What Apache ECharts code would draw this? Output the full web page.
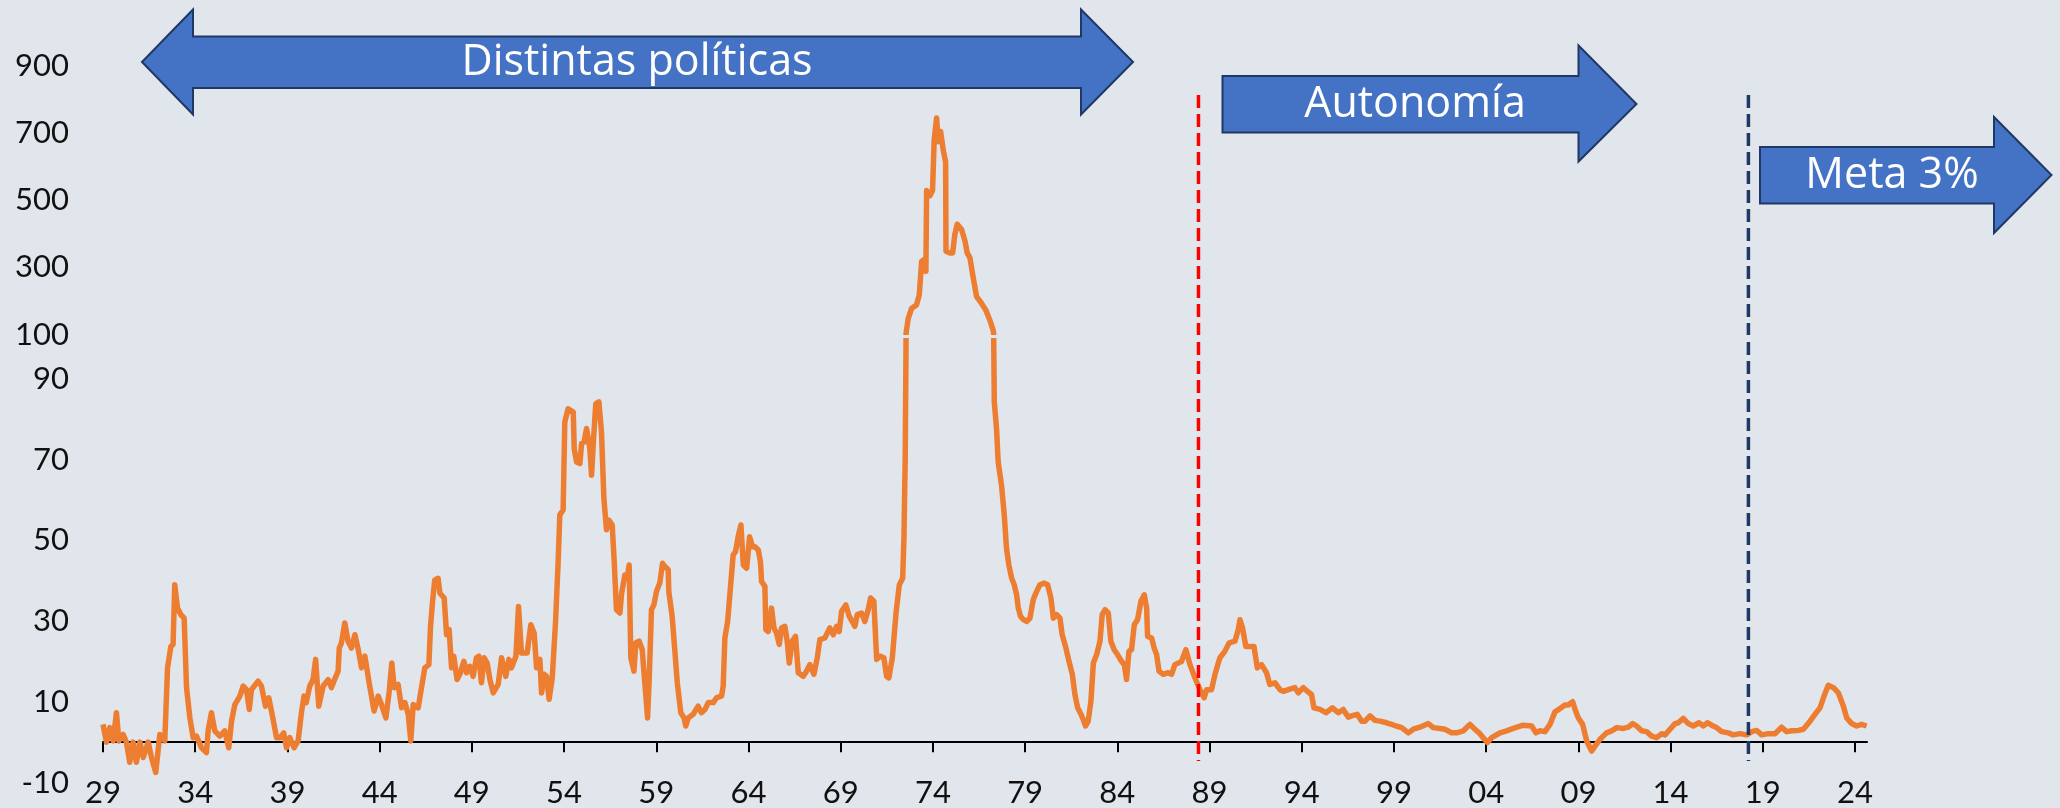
<!DOCTYPE html>
<html>
<head>
<meta charset="utf-8">
<title>Inflación Chile 1929-2024</title>
<script src="https://cdn.jsdelivr.net/npm/echarts@6.0.0/dist/echarts.min.js"></script>
<style>
  html, body { margin: 0; padding: 0; background: #E1E6ED; }
  #grafico { width: 2060px; height: 808px; }
</style>
</head>
<body>
<div id="grafico"></div>
<script>
// fechas (año decimal) y variación anual del IPC (%)
var anios = [
  1929.00, 1929.19, 1929.37, 1929.55, 1929.73, 1929.86, 1930.09, 1930.27, 1930.45, 1930.63,
  1930.81, 1931.00, 1931.18, 1931.45, 1931.63, 1931.86, 1932.08, 1932.35, 1932.50, 1932.68,
  1932.80, 1932.89, 1933.04, 1933.22, 1933.40, 1933.53, 1933.71, 1933.89, 1934.07, 1934.34,
  1934.61, 1934.70, 1934.88, 1935.06, 1935.33, 1935.60, 1935.82, 1935.97, 1936.15, 1936.42,
  1936.60, 1936.78, 1936.93, 1937.05, 1937.41, 1937.59, 1937.81, 1937.99, 1938.17, 1938.41,
  1938.59, 1938.80, 1938.95, 1939.13, 1939.36, 1939.58, 1939.76, 1939.90, 1940.02, 1940.21,
  1940.39, 1940.53, 1940.70, 1940.79, 1940.94, 1941.21, 1941.39, 1941.52, 1941.75, 1941.81,
  1941.93, 1942.11, 1942.29, 1942.47, 1942.66, 1942.84, 1943.02, 1943.20, 1943.43, 1943.70,
  1943.92, 1944.10, 1944.34, 1944.52, 1944.66, 1944.79, 1945.00, 1945.19, 1945.37, 1945.55,
  1945.69, 1945.82, 1946.09, 1946.27, 1946.45, 1946.67, 1946.76, 1946.87, 1946.99, 1947.17,
  1947.27, 1947.50, 1947.63, 1947.77, 1947.90, 1948.02, 1948.20, 1948.35, 1948.57, 1948.71,
  1948.89, 1949.07, 1949.25, 1949.38, 1949.52, 1949.67, 1949.83, 1949.98, 1950.16, 1950.43,
  1950.61, 1950.84, 1951.01, 1951.15, 1951.39, 1951.53, 1951.69, 1952.00, 1952.20, 1952.38,
  1952.51, 1952.69, 1952.78, 1952.92, 1953.05, 1953.19, 1953.36, 1953.54, 1953.68, 1953.77,
  1953.95, 1954.04, 1954.22, 1954.31, 1954.50, 1954.55, 1954.68, 1954.86, 1954.95, 1955.09,
  1955.22, 1955.31, 1955.40, 1955.49, 1955.60, 1955.72, 1955.89, 1956.03, 1956.16, 1956.30,
  1956.43, 1956.61, 1956.72, 1956.84, 1957.03, 1957.12, 1957.30, 1957.42, 1957.53, 1957.62,
  1957.79, 1957.89, 1958.07, 1958.24, 1958.35, 1958.53, 1958.62, 1958.74, 1958.87, 1959.01,
  1959.19, 1959.34, 1959.47, 1959.65, 1959.68, 1959.86, 1960.01, 1960.14, 1960.33, 1960.51,
  1960.60, 1960.73, 1961.00, 1961.27, 1961.45, 1961.64, 1961.82, 1962.09, 1962.27, 1962.54,
  1962.63, 1962.72, 1962.87, 1962.99, 1963.17, 1963.30, 1963.44, 1963.59, 1963.72, 1963.90,
  1964.06, 1964.22, 1964.35, 1964.53, 1964.65, 1964.71, 1964.89, 1964.94, 1965.07, 1965.25,
  1965.38, 1965.52, 1965.67, 1965.79, 1965.97, 1966.10, 1966.21, 1966.37, 1966.55, 1966.70,
  1966.97, 1967.10, 1967.33, 1967.55, 1967.73, 1967.87, 1968.14, 1968.41, 1968.60, 1968.78,
  1968.92, 1969.05, 1969.28, 1969.46, 1969.77, 1969.90, 1970.13, 1970.31, 1970.49, 1970.62,
  1970.80, 1970.95, 1971.13, 1971.34, 1971.49, 1971.61, 1971.80, 1972.00, 1972.18, 1972.36,
  1972.43, 1972.50, 1972.56, 1972.66, 1972.84, 1973.11, 1973.26, 1973.39, 1973.51, 1973.62,
  1973.66, 1973.84, 1973.98, 1974.07, 1974.20, 1974.29, 1974.42, 1974.56, 1974.69, 1974.71,
  1974.92, 1975.07, 1975.19, 1975.32, 1975.55, 1975.74, 1975.86, 1976.01, 1976.19, 1976.37,
  1976.64, 1976.87, 1977.09, 1977.27, 1977.33, 1977.45, 1977.54, 1977.72, 1977.87, 1977.99,
  1978.12, 1978.27, 1978.41, 1978.54, 1978.63, 1978.75, 1978.90, 1979.08, 1979.26, 1979.44,
  1979.62, 1979.80, 1980.04, 1980.22, 1980.40, 1980.53, 1980.71, 1980.89, 1981.01, 1981.19,
  1981.38, 1981.56, 1981.70, 1981.85, 1982.03, 1982.15, 1982.28, 1982.42, 1982.57, 1982.70,
  1982.88, 1983.06, 1983.18, 1983.33, 1983.51, 1983.65, 1983.83, 1984.01, 1984.23, 1984.38,
  1984.50, 1984.63, 1984.77, 1984.92, 1985.10, 1985.28, 1985.46, 1985.59, 1985.64, 1985.86,
  1986.00, 1986.13, 1986.26, 1986.49, 1986.76, 1986.94, 1987.12, 1987.21, 1987.48, 1987.72,
  1987.94, 1988.21, 1988.48, 1988.71, 1988.84, 1989.11, 1989.29, 1989.56, 1989.83, 1990.07,
  1990.38, 1990.56, 1990.65, 1990.79, 1990.97, 1991.19, 1991.41, 1991.59, 1991.82, 1992.09,
  1992.27, 1992.55, 1992.82, 1993.00, 1993.27, 1993.63, 1993.81, 1994.08, 1994.30, 1994.53,
  1994.66, 1994.99, 1995.31, 1995.67, 1995.98, 1996.25, 1996.52, 1996.70, 1997.01, 1997.25,
  1997.43, 1997.70, 1997.97, 1998.24, 1998.60, 1998.87, 1999.11, 1999.42, 1999.78, 2000.05,
  2000.41, 2000.86, 2001.13, 2001.49, 2001.76, 2002.13, 2002.40, 2002.76, 2003.12, 2003.39,
  2003.66, 2003.84, 2004.06, 2004.30, 2004.75, 2005.11, 2005.47, 2006.01, 2006.47, 2006.70,
  2006.92, 2007.19, 2007.46, 2007.73, 2008.00, 2008.27, 2008.45, 2008.69, 2008.82, 2009.00,
  2009.23, 2009.45, 2009.72, 2009.90, 2010.17, 2010.53, 2010.80, 2011.08, 2011.44, 2011.71,
  2011.94, 2012.16, 2012.43, 2012.70, 2012.97, 2013.24, 2013.52, 2013.70, 2013.97, 2014.24,
  2014.42, 2014.69, 2014.96, 2015.23, 2015.54, 2015.78, 2015.99, 2016.23, 2016.50, 2016.77,
  2017.13, 2017.40, 2017.76, 2018.13, 2018.40, 2018.67, 2018.94, 2019.30, 2019.66, 2020.02,
  2020.29, 2020.57, 2020.93, 2021.20, 2021.56, 2021.83, 2022.10, 2022.32, 2022.55, 2022.83,
  2023.10, 2023.37, 2023.55, 2023.82, 2024.09, 2024.36, 2024.63
]

var inflacion = [
  4.4, 0, 3.6, 0.3, 7.3, 0.3, 1.9, 0, -5, 0,
  -5, 0, -3.8, 0, -3.8, -7.5, 1.9, 0.3, 18.4, 23.7,
  24.2, 39, 33.2, 31.6, 30.7, 13.5, 6, 1.1, 1.5, -1.4,
  -2.6, 2.8, 7.3, 2.8, 1.5, 2.8, -1.4, 5.2, 9.3, 11.4,
  13.9, 13, 8.1, 13, 15.1, 13.9, 8.9, 11, 6.9, 1.1,
  1.1, 2.3, -1.4, 1.1, -1.4, 0.3, 7.3, 11.4, 9.8, 13.9,
  15.5, 20.5, 8.9, 9.3, 13.9, 15.5, 13.5, 15.1, 17.6, 23.3,
  24.6, 29.5, 25, 23.3, 26.6, 22.9, 18.4, 21.3, 14.7, 7.7,
  11.4, 9.3, 6, 12.6, 19.6, 13.5, 14.3, 8.5, 9.8, 6.9,
  0.3, 9.3, 8.5, 13.5, 18.4, 19.2, 28.7, 34.9, 40.2, 40.6,
  36.9, 35.7, 26.6, 27.9, 18.4, 21.3, 15.5, 16.8, 20, 17.2,
  18.8, 16.3, 20.9, 21.3, 14.7, 20.9, 19.6, 15.5, 12.2, 14.3,
  20.9, 16.3, 20.5, 18.4, 21.3, 33.6, 22.1, 22.1, 29.1, 27,
  18.4, 20.5, 12.2, 16.8, 16.3, 10.6, 15.9, 29.9, 44.7, 56.3,
  57.5, 79.3, 82.6, 82.2, 81.8, 72.7, 69.4, 69, 74, 74.4,
  77.7, 78.1, 72.7, 66.1, 75.2, 83.8, 84.3, 76.8, 60.4, 52.6,
  55, 53.8, 44.7, 32.8, 32, 36.9, 41.4, 40.6, 43.9, 20.9,
  17.6, 24.6, 25, 22.9, 16.3, 6, 15.9, 32.8, 34, 37.3,
  39.4, 44.3, 43.5, 42.7, 37.3, 31.2, 22.5, 14.7, 7.3, 6,
  4, 6, 6.9, 8.9, 7.3, 8.1, 9.8, 9.8, 11, 11.4,
  13.9, 25.8, 29.9, 36.5, 46.4, 47.2, 50.9, 53.8, 43.9, 43.1,
  50.9, 48.4, 48.4, 47.6, 44.7, 39.8, 38.6, 27.9, 27.4, 33.2,
  28.3, 27, 24.2, 28.3, 28.7, 25, 19.6, 25, 26.2, 17.2,
  16.3, 17.2, 19.2, 16.8, 20.9, 25.4, 25.8, 28.3, 26.6, 28.7,
  27.4, 32.4, 34, 31.2, 28.7, 31.6, 32, 29.9, 32.8, 35.7,
  34.9, 20.5, 21.3, 20.9, 16.3, 15.9, 20.9, 32, 39, 40.6,
  50.5, 71.1, 110, 147, 177, 187.5, 217.6, 317.7, 322.9, 287.7,
  528, 513, 528, 678.6, 744, 673.5, 703.6, 648.6, 613.4, 347.8,
  342.7, 342.7, 398, 428, 413, 377.9, 342.7, 327.7, 267.5, 212.5,
  192.3, 172.5, 142.4, 112.3, 84.2, 77.7, 69.4, 63.7, 56.3, 48,
  43.9, 40.6, 39, 36.5, 33.2, 31.2, 30.4, 29.9, 30.7, 35.3,
  37.3, 39, 39.4, 39, 35.7, 30.7, 31.6, 30.7, 26.6, 23.7,
  20, 16.8, 11.8, 8.5, 6.9, 5.6, 4, 5.2, 10.2, 19.6,
  21.7, 25, 31.6, 32.8, 32, 25, 22.9, 21.7, 20, 19.2,
  15.5, 22.5, 22.9, 29.1, 30.4, 34.9, 36.5, 33.2, 26.2, 25.8,
  23.3, 21.7, 17.6, 16.8, 17.2, 16.8, 19.2, 19.6, 20, 22.9,
  19.2, 15.9, 13, 11, 13, 13, 16.7, 20.9, 22.5, 24.6,
  25, 27.9, 30.3, 28.3, 23.7, 23.7, 23.7, 18.4, 19.2, 17.2,
  14.3, 14.7, 13, 12.6, 13, 13.5, 12.2, 13.5, 12.6, 11.8,
  8.5, 8.1, 7.3, 8.5, 7.3, 8.1, 6.2, 6.5, 6.9, 5.2,
  5.2, 6.5, 5.4, 5.2, 4.8, 4.4, 4, 3.6, 2.3, 3.2,
  3.7, 4.6, 3.6, 3.4, 3.2, 2.3, 2.3, 2.8, 4.4, 3.2,
  2.1, 1.1, -0.1, 1.1, 2.3, 2.8, 3.4, 4.2, 4, 2.3,
  2.8, 2.6, 4.4, 7.5, 8.3, 9.2, 9.2, 10, 8.1, 6,
  4.4, 0.3, -2.2, -1, 0.7, 2.3, 2.8, 3.6, 3.4, 3.7,
  4.6, 4, 2.8, 2.6, 1.5, 1.1, 2.1, 1.8, 3.2, 4.6,
  4.8, 5.9, 4.6, 4, 4.8, 4, 4.8, 4.2, 3.6, 2.6,
  2.3, 1.8, 2.1, 1.8, 2.6, 2.9, 1.8, 2.1, 2.1, 3.7,
  2.6, 2.8, 2.9, 3.2, 5.2, 6.9, 8.5, 11.4, 14.1, 13.5,
  12.2, 8.9, 6, 4.6, 4, 4.4, 4
]

// marcas del eje x (cada 5 años)
var aniosEje = [1929, 1934, 1939, 1944, 1949, 1954, 1959, 1964, 1969, 1974, 1979,
  1984, 1989, 1994, 1999, 2004, 2009, 2014, 2019, 2024]

// hitos: inicio autonomía y meta de 3%
var hitos = [
  {anio: 1988.4, color: '#FF0000'},
  {anio: 2018.22, color: '#1F3864'}
]

var xMin = 1929
var xMax = 2024.65
var fuenteEjes = 'Lato'
var fuenteFlechas = 'Open Sans'
var colorFondo = '#E1E6ED'

var puntos = anios.map(function (a, i) {
  return [a, inflacion[i]]
})

var myChart = echarts.init(document.getElementById('grafico'))

var etiquetaY = {
  fontFamily: fuenteEjes,
  fontSize: 31,
  color: '#111111',
  margin: 34
}

var estiloLinea = {color: '#ED7D31', width: 5.5, join: 'round'}

var option = {
  backgroundColor: colorFondo,
  animation: false,
  grid: [
    //tramo superior 100 - 900
    {left: 103, right: 193, top: 65.5, height: 269},
    //tramo inferior -10 - 100
    {left: 103, right: 193, top: 338.5, bottom: 23.5}
  ],
  xAxis: [
    {
      gridIndex: 0, type: 'value', min: xMin, max: xMax, show: false
    },
    {
      gridIndex: 1, type: 'value', min: xMin, max: xMax,
      axisLine: {onZero: true, lineStyle: {color: '#000000', width: 2}},
      axisTick: {show: true, customValues: aniosEje, length: 10, lineStyle: {color: '#000000', width: 2}},
      axisLabel: {show: false},
      splitLine: {show: false}
    },
    {
      gridIndex: 1, type: 'value', min: xMin, max: xMax, position: 'bottom',
      axisLine: {show: false, onZero: false},
      axisTick: {show: false},
      axisLabel: {
        customValues: aniosEje,
        fontFamily: fuenteEjes,
        fontSize: 31,
        color: '#111111',
        verticalAlign: 'middle',
        margin: 10,
        formatter: function (v) {
          return String(Math.round(v) % 100).padStart(2, '0')
        }
      },
      splitLine: {show: false}
    }
  ],
  yAxis: [
    {
      gridIndex: 0, type: 'value', min: 100, max: 900, interval: 200,
      axisLine: {show: false}, axisTick: {show: false}, splitLine: {show: false},
      axisLabel: etiquetaY
    },
    {
      gridIndex: 1, type: 'value', min: -10, max: 100, interval: 20,
      axisLine: {show: false}, axisTick: {show: false}, splitLine: {show: false},
      axisLabel: Object.assign({showMaxLabel: false}, etiquetaY)
    }
  ],
  series: [
    {
      name: 'Inflación', type: 'line', xAxisIndex: 0, yAxisIndex: 0,
      data: puntos, showSymbol: false, clip: true,
      lineStyle: estiloLinea
    },
    {
      name: 'Inflación', type: 'line', xAxisIndex: 1, yAxisIndex: 1,
      data: puntos, showSymbol: false, clip: true,
      lineStyle: estiloLinea
    }
  ]
}
myChart.setOption(option, true)

//flechas, corte del eje y líneas de hitos
var bordeFlecha = {fill: '#4472C4', stroke: '#1F3864', lineWidth: 2}

function textoFlecha (texto, x, y) {
  return {
    type: 'text', x: x, y: y, z: 20,
    style: {
      text: texto, fill: '#FFFFFF', font: '43px "' + fuenteFlechas + '"',
      textAlign: 'center', textVerticalAlign: 'middle'
    }
  }
}

var corteArriba = myChart.convertToPixel({yAxisIndex: 0}, 100)
var corteAbajo = myChart.convertToPixel({yAxisIndex: 1}, 100)
var bordeIzq = myChart.convertToPixel({xAxisIndex: 1}, xMin)
var bordeDer = myChart.convertToPixel({xAxisIndex: 1}, xMax)

var graficos = [
  {
    //corte entre tramos
    type: 'rect', z: 8, silent: true,
    shape: {x: bordeIzq, y: corteAbajo - 0.5, width: bordeDer - bordeIzq + 4, height: corteArriba - corteAbajo + 1},
    style: {fill: colorFondo}
  },
  {
    type: 'polygon', z: 10,
    shape: {points: [[142, 62], [193, 9.5], [193, 36.5], [1081, 36.5], [1081, 9.5], [1133, 62],
      [1081, 114.5], [1081, 88], [193, 88], [193, 114.5]]},
    style: bordeFlecha
  },
  textoFlecha('Distintas políticas', 637, 63),
  {
    type: 'polygon', z: 10,
    shape: {points: [[1222.5, 76], [1578.5, 76], [1578.5, 45.5], [1636.5, 104], [1578.5, 161.5],
      [1578.5, 132.5], [1222.5, 132.5]]},
    style: bordeFlecha
  },
  textoFlecha('Autonomía', 1415, 105),
  {
    type: 'polygon', z: 10,
    shape: {points: [[1760, 147], [1994, 147], [1994, 117], [2051.5, 175], [1994, 233],
      [1994, 203.5], [1760, 203.5]]},
    style: bordeFlecha
  },
  textoFlecha('Meta 3%', 1892, 176)
]

hitos.forEach(function (h) {
  var x = myChart.convertToPixel({xAxisIndex: 1}, h.anio)
  graficos.push({
    type: 'line', z: 5,
    shape: {x1: x, y1: 95, x2: x, y2: 761},
    style: {stroke: h.color, lineWidth: 3.5, lineDash: [13, 6]}
  })
})

myChart.setOption({graphic: graficos})
</script>
</body>
</html>
